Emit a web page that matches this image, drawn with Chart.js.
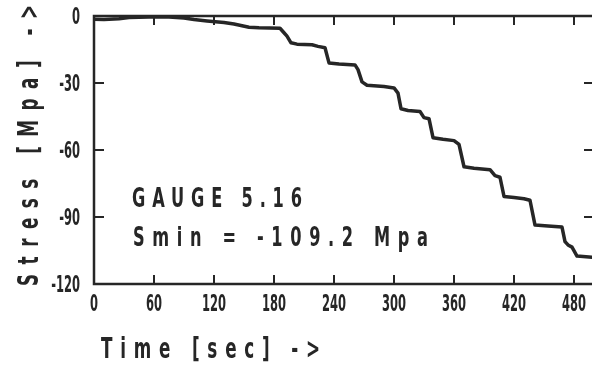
<!DOCTYPE html>
<html>
<head>
<meta charset="utf-8">
<title>Gauge 5.16 stress</title>
<script src="https://cdn.jsdelivr.net/npm/chart.js@4.4.1/dist/chart.umd.min.js"></script>
<style>
  html, body { margin: 0; padding: 0; background: #fff; }
  #wrap { width: 592px; height: 367px; }
</style>
</head>
<body>
<div id="wrap"><canvas id="stressChart" width="592" height="367"></canvas></div>
<script>
// DATA
// ------------------------------------------------------------------
const timeSec = [0, 10, 25, 35, 55, 75, 90, 100, 113, 130, 140, 155, 165, 186, 190, 193, 197, 203,
  218, 224, 231, 235, 245, 261, 264, 268, 273, 290, 300, 304, 307, 314, 326, 330, 335, 339,
  349, 360, 365, 370, 380, 396, 401, 406, 410, 420, 430, 436, 441, 454, 468, 471, 474, 478, 483, 498];
const stressMpa = [-1.5, -1.6, -1.2, -0.7, -0.4, -0.5, -0.9, -1.6, -2.2, -2.9, -3.6, -5.0, -5.3, -5.5, -7.5, -9.0, -12.0, -12.6,
  -12.9, -13.6, -14.2, -21.0, -21.5, -21.9, -24.0, -29.5, -31.0, -31.6, -32.2, -34.5, -41.5, -42.3, -42.8, -45.5, -46.0, -54.5,
  -55.2, -55.8, -57.5, -67.5, -68.2, -68.8, -71.5, -72.2, -80.8, -81.3, -81.8, -82.5, -93.6, -94.0, -94.5, -101.0, -102.5, -103.5, -107.5, -108.0];

const xTicks = [0, 60, 120, 180, 240, 300, 360, 420, 480];
const yTicks = [0, -30, -60, -90, -120];

const xTitle = 'Time [sec] ->';
const yTitle = 'Stress [Mpa] ->';
const noteLines = ['GAUGE 5.16', 'Smin = -109.2 Mpa'];

const INK = '#262626';
const FONT = '"DejaVu Sans", "Liberation Sans", sans-serif';

// narrow "plotter" lettering: squeeze horizontally, optionally stretch to a width
function plotterText(ctx, str, x, y, sx, width) {
    ctx.save();
    ctx.translate(x, y);
    ctx.scale(sx, 1);
    ctx.letterSpacing = '0px';
    if (width) {
        const w0 = ctx.measureText(str).width;
        ctx.letterSpacing = ((width / sx - w0) / (str.length - 1)) + 'px';
    }
    ctx.fillText(str, 0, 0);
    ctx.restore();
}

// FRAME, INWARD TICKS AND ALL LETTERING
// ------------------------------------------------------------------
const plotterFrame = {
    id: 'plotterFrame',
    beforeDatasetsDraw(chart) {
        const { ctx, chartArea: a, scales: { x, y } } = chart;
        ctx.save();
        ctx.strokeStyle = INK;
        ctx.lineWidth = 2.5;
        ctx.lineCap = 'square';
        ctx.beginPath();
        ctx.moveTo(a.right, a.top); ctx.lineTo(a.left, a.top);
        ctx.lineTo(a.left, a.bottom); ctx.lineTo(a.right, a.bottom);
        ctx.stroke();

        ctx.lineWidth = 2;
        ctx.lineCap = 'butt';
        ctx.beginPath();
        xTicks.slice(1).forEach(v => {
            const px = Math.round(x.getPixelForValue(v));
            ctx.moveTo(px, a.top); ctx.lineTo(px, a.top + 9);
            ctx.moveTo(px, a.bottom); ctx.lineTo(px, a.bottom - 9);
        });
        yTicks.slice(1, -1).forEach(v => {
            const py = Math.round(y.getPixelForValue(v));
            ctx.moveTo(a.left, py); ctx.lineTo(a.left + 10, py);
            ctx.moveTo(a.right, py); ctx.lineTo(a.right - 8, py);
        });
        ctx.stroke();
        ctx.restore();
    },
    afterDraw(chart) {
        const { ctx, chartArea: a, scales: { x, y } } = chart;
        ctx.save();
        ctx.fillStyle = INK;
        ctx.textBaseline = 'alphabetic';

        // tick labels, placed by the scales
        ctx.font = 'bold 23px ' + FONT;
        ctx.textAlign = 'center';
        x.ticks.forEach(t => plotterText(ctx, String(t.value), x.getPixelForValue(t.value), a.bottom + 27, 0.5));
        ctx.textAlign = 'right';
        y.ticks.forEach(t => plotterText(ctx, String(t.value), a.left - 14, y.getPixelForValue(t.value) + 8, 0.5));

        // note and axis titles
        ctx.textAlign = 'left';
        ctx.font = 'bold 27px ' + FONT;
        plotterText(ctx, noteLines[0], 132, 207, 0.6, 170);
        plotterText(ctx, noteLines[1], 133, 246, 0.6, 295);

        ctx.font = 'bold 28px ' + FONT;
        plotterText(ctx, xTitle, 101, 358, 0.6, 219);

        ctx.translate(38, 286);
        ctx.rotate(-Math.PI / 2);
        plotterText(ctx, yTitle, 0, 0, 0.6, 281);
        ctx.restore();
    }
};

// CHART
// ------------------------------------------------------------------
const ctx = document.getElementById('stressChart').getContext('2d');

const stressChart = new Chart(ctx, {
    type: 'line',
    data: {
        datasets: [{
            label: 'Stress',
            data: timeSec.map((t, i) => ({ x: t, y: stressMpa[i] })),
            borderColor: INK,
            borderWidth: 3.5,
            borderJoinStyle: 'round',
            borderCapStyle: 'round',
            pointRadius: 0,
            tension: 0,
            fill: false
        }]
    },
    options: {
        responsive: false,
        animation: false,
        layout: { padding: { top: 16, right: 0, bottom: 0, left: 0 } },
        plugins: { legend: { display: false }, tooltip: { enabled: false } },
        scales: {
            x: {
                type: 'linear',
                min: 0,
                max: 498,
                afterBuildTicks: s => { s.ticks = xTicks.map(v => ({ value: v })); },
                afterFit: s => { s.height = 83; s.paddingLeft = 0; s.paddingRight = 0; },
                grid: { display: false, drawTicks: false },
                border: { display: false },
                ticks: { display: false }
            },
            y: {
                type: 'linear',
                min: -120,
                max: 0,
                afterBuildTicks: s => { s.ticks = yTicks.map(v => ({ value: v })); },
                afterFit: s => { s.width = 94; s.paddingTop = 0; s.paddingBottom = 0; },
                grid: { display: false, drawTicks: false },
                border: { display: false },
                ticks: { display: false }
            }
        }
    },
    plugins: [plotterFrame]
});
</script>
</body>
</html>
